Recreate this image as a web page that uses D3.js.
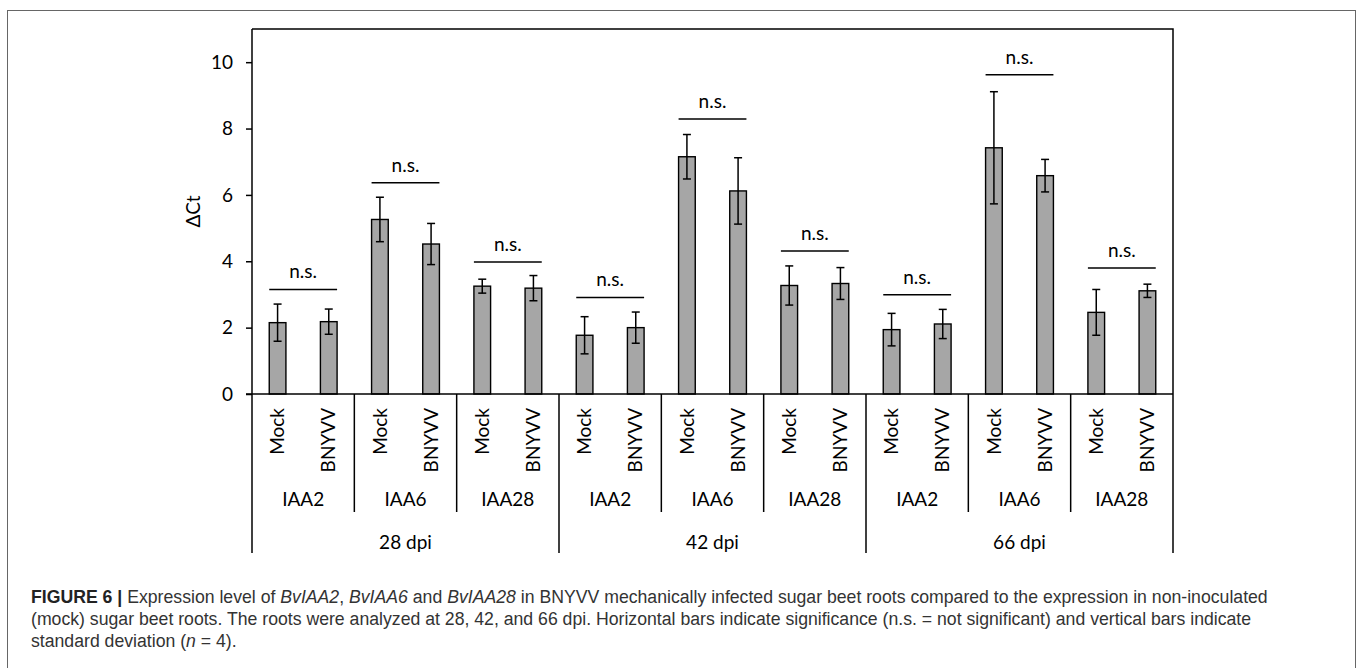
<!DOCTYPE html>
<html>
<head>
<meta charset="utf-8">
<script src="https://cdn.jsdelivr.net/npm/d3@7"></script>
<style>
  html, body { margin: 0; padding: 0; background: #fff; }
  svg { display: block; }
</style>
</head>
<body>
<svg id="chart" width="1358" height="668"></svg>
<script>
// ---------- data ----------
const timepoints = ["28 dpi", "42 dpi", "66 dpi"];
const genes = ["IAA2", "IAA6", "IAA28"];
const treatments = ["Mock", "BNYVV"];
// one value per (timepoint, gene) group, in order 28dpi IAA2, IAA6, IAA28, 42dpi ..., 66dpi ...
const mockMean  = [2.15, 5.26, 3.25, 1.77, 7.15, 3.27, 1.94, 7.42, 2.46];
const mockSD    = [0.56, 0.67, 0.21, 0.56, 0.67, 0.59, 0.49, 1.69, 0.69];
const bnyvvMean = [2.18, 4.52, 3.19, 2.00, 6.12, 3.33, 2.11, 6.58, 3.11];
const bnyvvSD   = [0.38, 0.62, 0.38, 0.47, 1.00, 0.48, 0.44, 0.49, 0.20];
const sigLevel  = [3.15, 6.37, 3.98, 2.91, 8.29, 4.31, 2.99, 9.62, 3.80];
const sigLabel  = ["n.s.", "n.s.", "n.s.", "n.s.", "n.s.", "n.s.", "n.s.", "n.s.", "n.s."];
const yTicks = [0, 2, 4, 6, 8, 10];
const yMax = 11;
const yTitle = "ΔCt";

// ---------- layout ----------
const svg = d3.select("#chart");
const pLeft = 252, pRight = 1173, pTop = 29, pBottom = 394;
const chartFont = "Lato, 'Open Sans', sans-serif";

// build rows
const groups = [];
timepoints.forEach((tp, ti) => genes.forEach((g, gi) => groups.push({tp, g, ti, gi})));
const rows = [];
groups.forEach((grp, i) => {
  rows.push({key: i * 2, group: i, treat: treatments[0], mean: mockMean[i], sd: mockSD[i]});
  rows.push({key: i * 2 + 1, group: i, treat: treatments[1], mean: bnyvvMean[i], sd: bnyvvSD[i]});
});

const pad = 0.674;
const x = d3.scaleBand().domain(rows.map(d => d.key)).range([pLeft, pRight])
  .paddingInner(pad).paddingOuter(pad / 2);
const xGroup = d3.scaleBand().domain(groups.map((d, i) => i)).range([pLeft, pRight]);
const xTime = d3.scaleBand().domain(timepoints).range([pLeft, pRight]);
const y = d3.scaleLinear().domain([0, yMax]).range([pBottom, pTop]);

// outer figure frame
svg.append("rect").attr("x", 7.5).attr("y", 10.5).attr("width", 1348).attr("height", 720)
  .attr("fill", "none").attr("stroke", "#666").attr("stroke-width", 1);

// plot frame (top + right)
svg.append("path")
  .attr("d", `M${pLeft},${pTop}H${pRight}V${pBottom}`)
  .attr("fill", "none").attr("stroke", "#000").attr("stroke-width", 1.5);

// y axis
const yAxis = d3.axisLeft(y).tickValues(yTicks).tickSize(6).tickPadding(13).tickFormat(d3.format("d"));
const gy = svg.append("g").attr("transform", `translate(${pLeft},0)`).call(yAxis);
gy.select(".domain").attr("d", `M0,${pTop}V${pBottom}`).attr("stroke", "#000").attr("stroke-width", 1.5);
gy.selectAll(".tick line").attr("stroke", "#000").attr("stroke-width", 1.5);
gy.selectAll(".tick text").attr("font-family", chartFont).attr("font-size", 19).attr("fill", "#000");

svg.append("text")
  .attr("transform", `translate(193,${(pTop + pBottom) / 2}) rotate(-90)`)
  .attr("text-anchor", "middle").attr("dy", "0.35em")
  .attr("font-family", chartFont).attr("font-size", 19).text(yTitle);

// bars
svg.append("g").selectAll("rect").data(rows).join("rect")
  .attr("x", d => x(d.key)).attr("width", x.bandwidth())
  .attr("y", d => y(d.mean)).attr("height", d => y(0) - y(d.mean))
  .attr("fill", "#a6a6a6").attr("stroke", "#000").attr("stroke-width", 1.4);

// error bars
const eb = svg.append("g").attr("stroke", "#000").attr("stroke-width", 1.5);
rows.forEach(d => {
  const cx = x(d.key) + x.bandwidth() / 2;
  eb.append("line").attr("x1", cx).attr("x2", cx).attr("y1", y(d.mean - d.sd)).attr("y2", y(d.mean + d.sd));
  eb.append("line").attr("x1", cx - 4).attr("x2", cx + 4).attr("y1", y(d.mean - d.sd)).attr("y2", y(d.mean - d.sd));
  eb.append("line").attr("x1", cx - 4).attr("x2", cx + 4).attr("y1", y(d.mean + d.sd)).attr("y2", y(d.mean + d.sd));
});

// significance lines
const sg = svg.append("g");
groups.forEach((grp, i) => {
  const x1 = x(i * 2), x2 = x(i * 2 + 1) + x.bandwidth();
  const yy = y(sigLevel[i]);
  sg.append("line").attr("x1", x1).attr("x2", x2).attr("y1", yy).attr("y2", yy)
    .attr("stroke", "#000").attr("stroke-width", 1.5);
  sg.append("text").attr("x", (x1 + x2) / 2).attr("y", yy - 11)
    .attr("text-anchor", "middle").attr("font-family", chartFont).attr("font-size", 19)
    .text(sigLabel[i]);
});

// x axis line (with tick at 0 extending left)
svg.append("line").attr("x1", pLeft - 6).attr("x2", pRight).attr("y1", pBottom).attr("y2", pBottom)
  .attr("stroke", "#000").attr("stroke-width", 1.5);

// multi-level category labels
const rowGene = 512, rowTime = 553;
svg.append("g").selectAll("text").data(rows).join("text")
  .attr("transform", d => `translate(${x(d.key) + x.bandwidth() / 2},408) rotate(-90)`)
  .attr("text-anchor", "end").attr("dy", "0.35em")
  .attr("font-family", chartFont).attr("font-size", 19).text(d => d.treat);

svg.append("g").selectAll("text").data(groups).join("text")
  .attr("x", (d, i) => xGroup(i) + xGroup.bandwidth() / 2).attr("y", 499)
  .attr("dy", "0.35em").attr("text-anchor", "middle")
  .attr("font-family", chartFont).attr("font-size", 19).text(d => d.g);

svg.append("g").selectAll("text").data(timepoints).join("text")
  .attr("x", d => xTime(d) + xTime.bandwidth() / 2).attr("y", 542)
  .attr("dy", "0.35em").attr("text-anchor", "middle")
  .attr("font-family", chartFont).attr("font-size", 19).text(d => d);

// separators
const sep = svg.append("g").attr("stroke", "#000").attr("stroke-width", 1.5);
groups.forEach((grp, i) => {
  if (grp.gi !== 0) {
    const xx = xGroup(i);
    sep.append("line").attr("x1", xx).attr("x2", xx).attr("y1", pBottom).attr("y2", rowGene);
  }
});
timepoints.forEach(tp => {
  const xx = xTime(tp);
  sep.append("line").attr("x1", xx).attr("x2", xx).attr("y1", pBottom).attr("y2", rowTime);
});
sep.append("line").attr("x1", pRight).attr("x2", pRight).attr("y1", pBottom).attr("y2", rowTime);

// caption
const capLines = [
  [["FIGURE 6 |", "b"], [" Expression level of ", ""], ["BvIAA2", "i"], [", ", ""], ["BvIAA6", "i"], [" and ", ""], ["BvIAA28", "i"],
   [" in BNYVV mechanically infected sugar beet roots compared to the expression in non-inoculated", ""]],
  [["(mock) sugar beet roots. The roots were analyzed at 28, 42, and 66 dpi. Horizontal bars indicate significance (n.s. = not significant) and vertical bars indicate", ""]],
  [["standard deviation (", ""], ["n", "i"], [" = 4).", ""]]
];
const capY = [603, 625, 647];
const cap = svg.append("g").attr("font-family", "'Liberation Sans', Arial, sans-serif").attr("fill", "#333").attr("font-size", 16);
const capTexts = capLines.map((ln, li) => {
  const t = cap.append("text").attr("x", 31).attr("y", capY[li]);
  ln.forEach(([s, st]) => {
    const ts = t.append("tspan").text(s);
    if (st === "b") ts.attr("font-weight", "bold").attr("fill", "#222");
    if (st === "i") ts.attr("font-style", "italic");
  });
  return t;
});
const w0 = capTexts[0].node().getComputedTextLength();
const fs = 16 * 1238 / w0;
cap.attr("font-size", fs);
</script>
</body>
</html>
